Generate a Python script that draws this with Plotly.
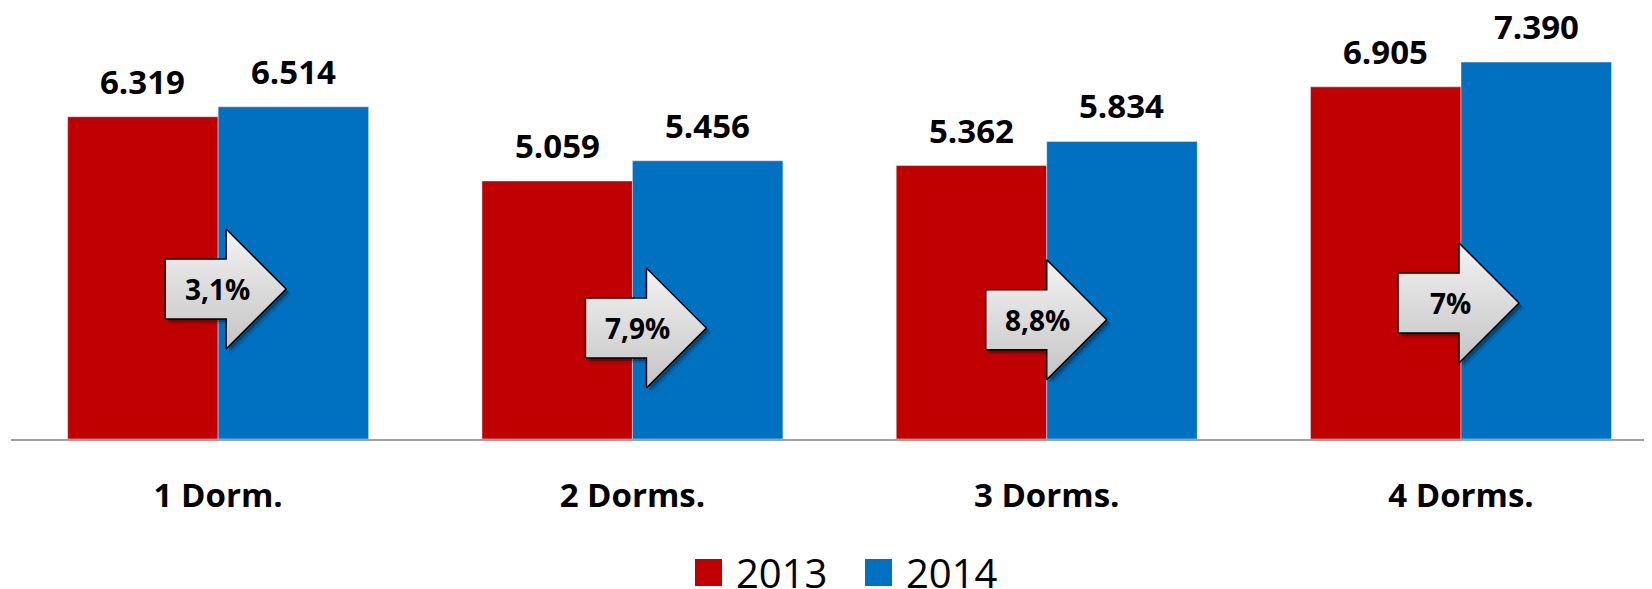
import plotly.graph_objects as go

# data
categories = ["1 Dorm.", "2 Dorms.", "3 Dorms.", "4 Dorms."]
values_2013 = [6319, 5059, 5362, 6905]
values_2014 = [6514, 5456, 5834, 7390]
labels_2013 = ["6.319", "5.059", "5.362", "6.905"]
labels_2014 = ["6.514", "5.456", "5.834", "7.390"]
growth_labels = ["3,1%", "7,9%", "8,8%", "7%"]
series_names = ["2013", "2014"]

# styling / layout (page body has an 8px margin, so the figure is 8px smaller)
RED, BLUE = "#C00000", "#0070C0"
FONT = "Open Sans"
W, H = 1644, 581
ML, MR, MT, MB = 3, 0, 0, 150
XR = [-0.5, 3.461]
YR = [0, 8451]
BARGAP = 0.2735

plot_w = W - ML - MR
plot_h = H - MT - MB
sx = plot_w / (XR[1] - XR[0])   # px per category unit
sy = plot_h / (YR[1] - YR[0])   # px per value unit

# arrows: left edge offset from group centre (px), vertical middle (value units)
arrow_dx = [-53, -47, -61, -63]
arrow_y = [2941, 2176, 2339, 2667]
arrow_px = [(0, -30), (61, -30), (61, -60), (121, 0), (61, 60), (61, 30), (0, 30), (0, -30)]

x = list(range(len(categories)))
fig = go.Figure()
fig.add_trace(go.Bar(x=x, y=values_2013, name=series_names[0], marker_color=RED,
                     showlegend=False, hoverinfo="skip"))
fig.add_trace(go.Bar(x=x, y=values_2014, name=series_names[1], marker_color=BLUE,
                     showlegend=False, hoverinfo="skip"))


def arrow_xy(i, ox=0, oy=0):
    xs = [i + (arrow_dx[i] + px + ox) / sx for px, py in arrow_px]
    ys = [arrow_y[i] + (py - oy) / sy for px, py in arrow_px]
    return xs, ys


for i in x:
    # soft shadow
    for off, alpha in [(5, 0.12), (3, 0.25)]:
        xs, ys = arrow_xy(i, off, off)
        fig.add_trace(go.Scatter(x=xs, y=ys, mode="lines", fill="toself",
                                 fillcolor=f"rgba(0,0,0,{alpha})", line=dict(width=0),
                                 showlegend=False, hoverinfo="skip"))
    xs, ys = arrow_xy(i)
    fig.add_trace(go.Scatter(x=xs, y=ys, mode="lines", fill="toself",
                             fillgradient=dict(type="vertical",
                                               colorscale=[[0, "#c4c4c4"], [1, "#f3f3f3"]]),
                             line=dict(color="black", width=1.5),
                             showlegend=False, hoverinfo="skip"))
    fig.add_annotation(x=i + (arrow_dx[i] + 52) / sx, y=arrow_y[i], text=growth_labels[i],
                       showarrow=False, font=dict(family=FONT, size=28, color="black", weight="bold"))

# value labels above bars
bw = (1 - BARGAP) / 2
for i in x:
    for off, v, lab in [(-bw / 2, values_2013[i], labels_2013[i]), (bw / 2, values_2014[i], labels_2014[i])]:
        fig.add_annotation(x=i + off, y=v, text=lab, showarrow=False, yanchor="bottom", yshift=11,
                           font=dict(family=FONT, size=33, color="black", weight="bold"))

# custom legend (big squares)
legend_x = [687, 857]
legend_top, sq = 551, 27
for name, col, lx in zip(series_names, [RED, BLUE], legend_x):
    fig.add_shape(type="rect", xref="paper", yref="paper",
                  x0=(lx - ML) / plot_w, x1=(lx + sq - ML) / plot_w,
                  y0=(MT + plot_h - legend_top) / plot_h, y1=(MT + plot_h - legend_top - sq) / plot_h,
                  fillcolor=col, line=dict(width=0))
    fig.add_annotation(xref="paper", yref="paper", x=(lx + sq + 12 - ML) / plot_w,
                       y=(MT + plot_h - legend_top - sq / 2) / plot_h, xanchor="left", yanchor="middle",
                       text=name, showarrow=False, font=dict(family=FONT, size=40, color="black"))

fig.update_layout(
    width=W, height=H,
    margin=dict(l=ML, r=MR, t=MT, b=MB),
    barmode="group", bargap=BARGAP, bargroupgap=0,
    plot_bgcolor="white", paper_bgcolor="white",
    showlegend=False,
)
fig.update_xaxes(range=XR, tickvals=x, ticktext=categories, showline=True, linecolor="#a0a0a0",
                 linewidth=2, showgrid=False, zeroline=False, ticks="", ticklabelstandoff=26,
                 tickfont=dict(family=FONT, size=33, color="black", weight="bold"))
fig.update_yaxes(range=YR, showgrid=False, zeroline=False, showticklabels=False, showline=False)

fig.write_html("out.html")
